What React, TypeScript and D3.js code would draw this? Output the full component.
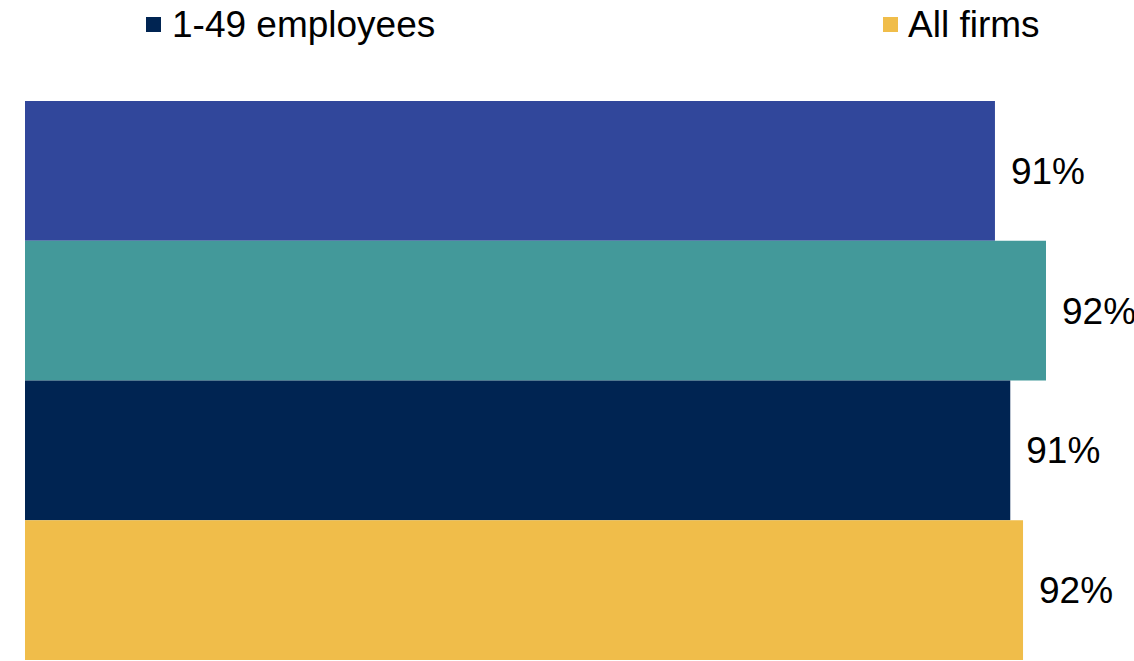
import React from "react";
import * as d3 from "d3";

const categories = ["Series A", "Series B", "1-49 employees", "All firms"];
const values = [91.0, 92.0, 91.3, 91.55];
const colors = ["#31479B", "#43999A", "#002452", "#F0BD4A"];
const legendItems = ["1-49 employees", "All firms"];
const legendColors = ["#002452", "#F0BD4A"];

const W = 1134;
const H = 661;

export default function App() {
  const x = d3.scaleLinear().domain([72, 100]).range([25, 25 + 28 * 51.05]);
  const y = d3.scaleBand().domain(categories).range([101, 660]).padding(0);
  const fmt = (v: number) => `${Math.round(v)}%`;
  const legendX = [146, 883];
  const legendTextX = [172, 908];
  const font = "'Liberation Sans', Arial, sans-serif";
  return (
    <svg
      width={W}
      height={H}
      style={{ position: "absolute", left: 0, top: 0, background: "#fff" }}
    >
      {legendItems.map((t, i) => (
        <g key={t}>
          <rect x={legendX[i]} y={17} width={15} height={15} fill={legendColors[i]} />
          <text
            x={legendTextX[i]}
            y={37}
            fontFamily={font}
            fontSize={37}
            fill="#000"
          >
            {t}
          </text>
        </g>
      ))}
      {categories.map((c, i) => (
        <g key={c}>
          <rect
            x={x(72)}
            y={y(c)!}
            width={x(values[i]) - x(72)}
            height={y.bandwidth()}
            fill={colors[i]}
          />
          <text
            x={x(values[i]) + 16}
            y={y(c)! + y.bandwidth() / 2}
            dy="0.35em"
            fontFamily={font}
            fontSize={37}
            fill="#000"
          >
            {fmt(values[i])}
          </text>
        </g>
      ))}
    </svg>
  );
}
